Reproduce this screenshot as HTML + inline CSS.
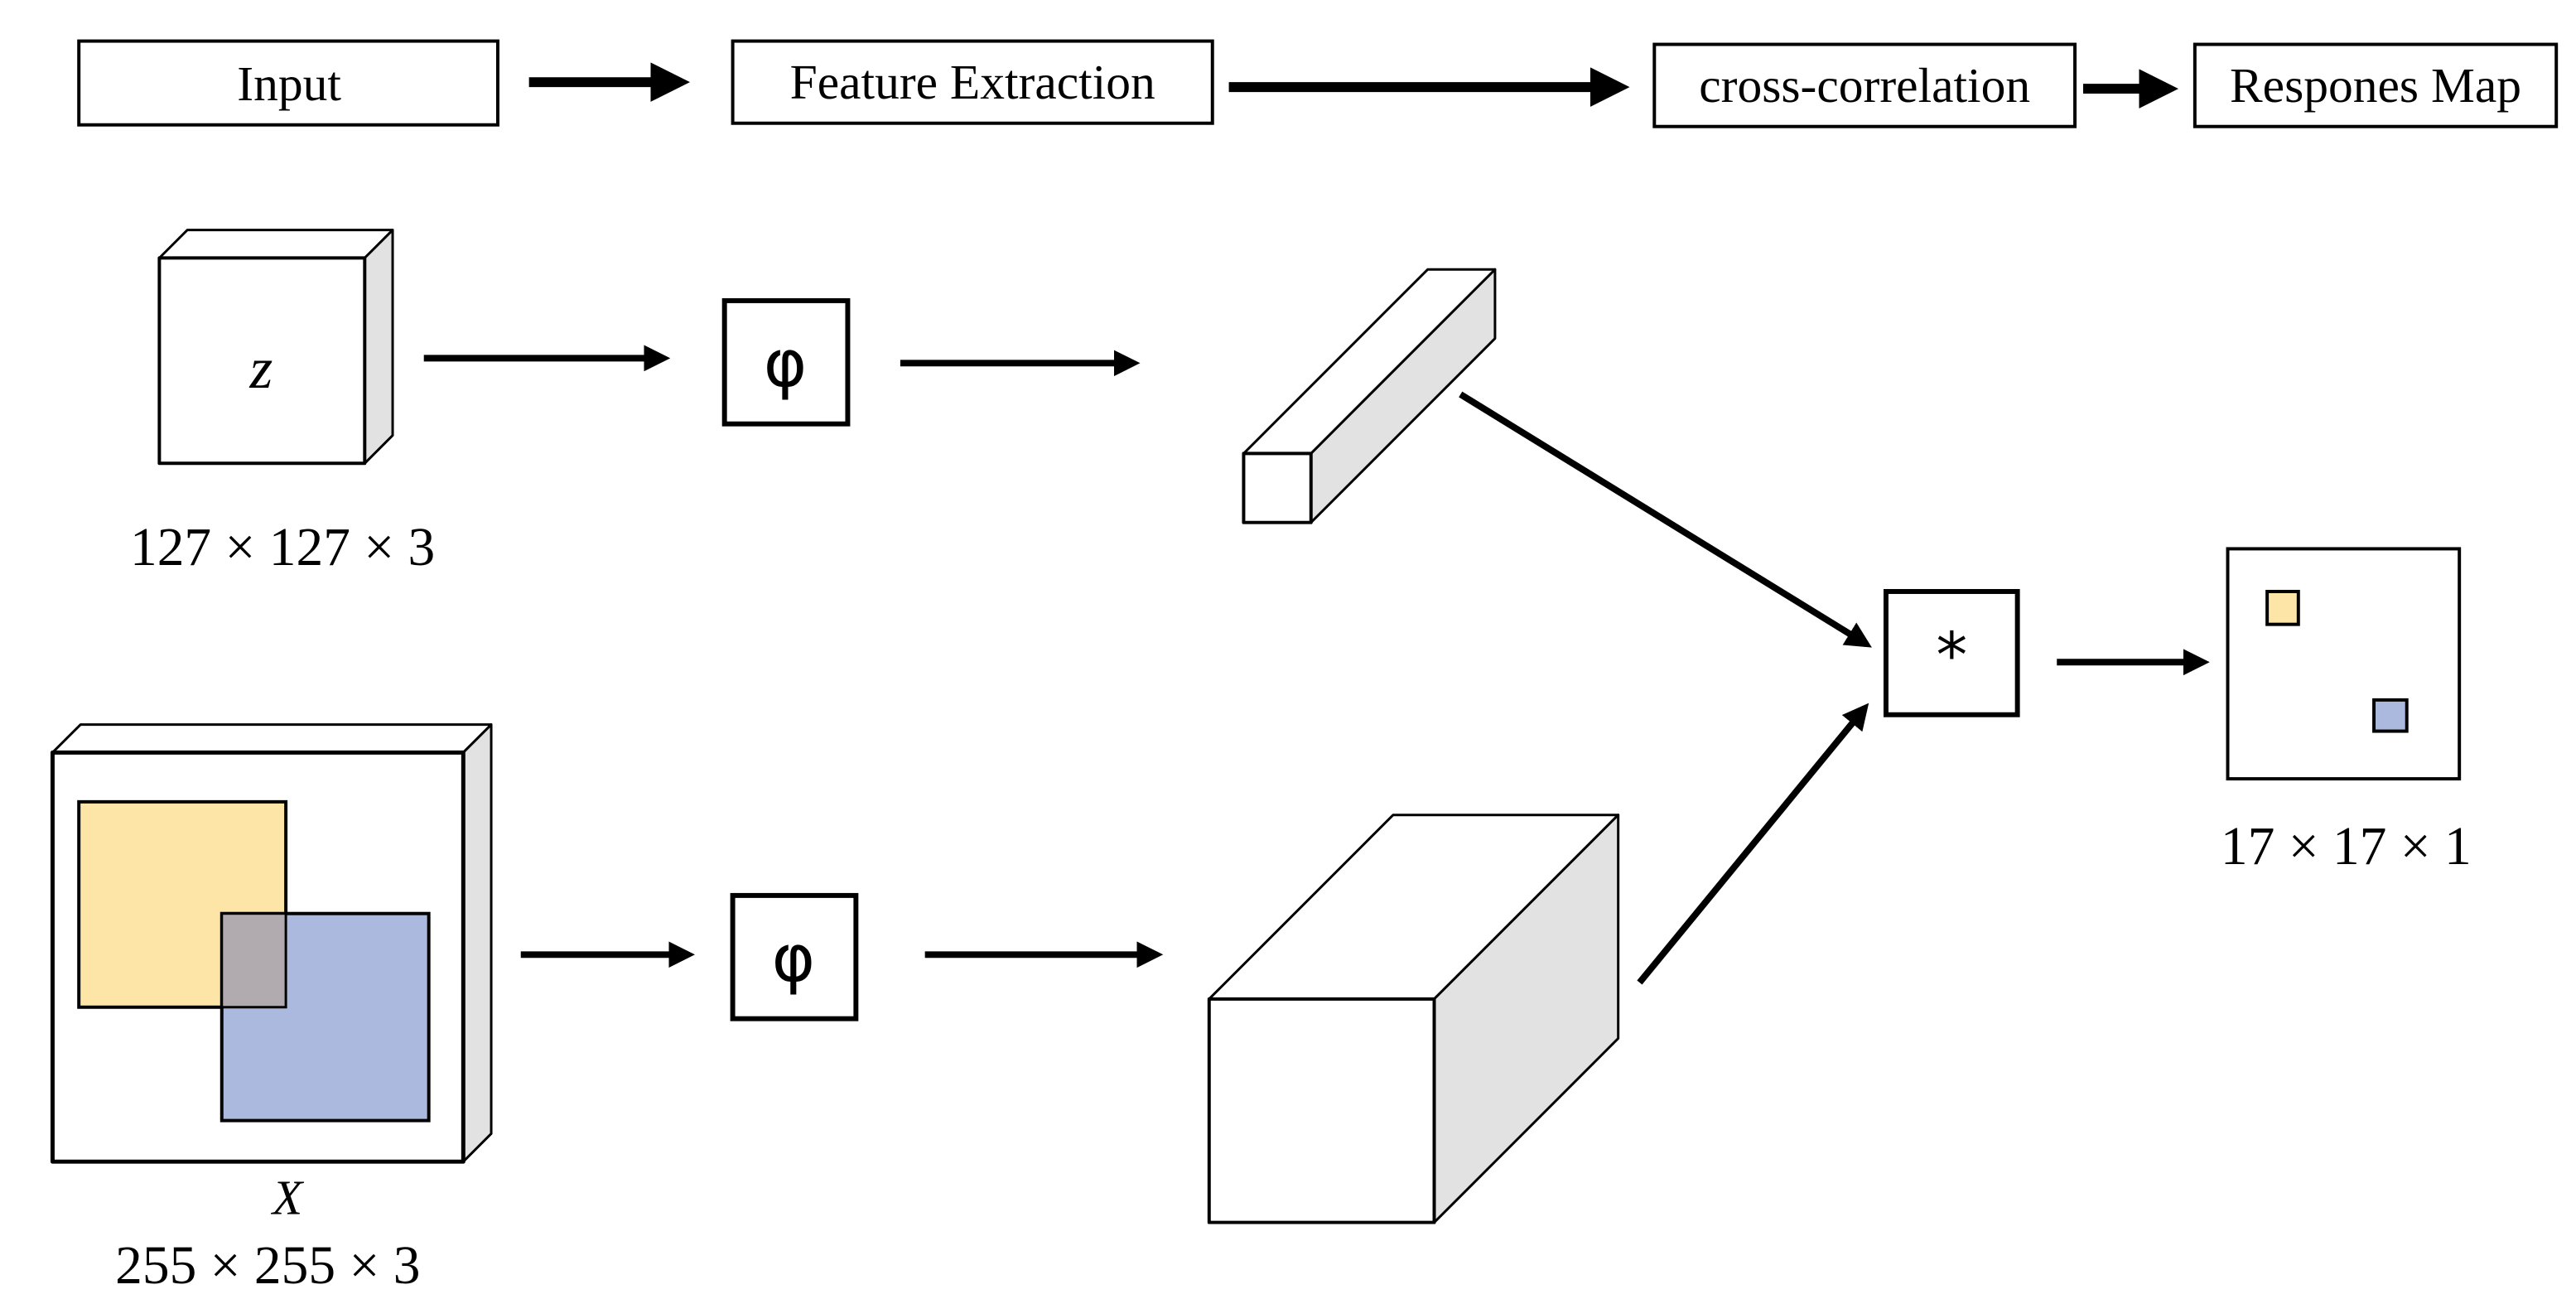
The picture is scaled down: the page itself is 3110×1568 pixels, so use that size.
<!DOCTYPE html>
<html><head><style>html,body{margin:0;padding:0;background:#fff}svg{display:block}</style></head><body>
<svg width="3110" height="1568" viewBox="0 0 1568 790.6" preserveAspectRatio="none" xmlns="http://www.w3.org/2000/svg" font-family="'Liberation Serif', serif">
<defs>
<marker id="ah" markerWidth="4" markerHeight="4" refX="3" refY="2" orient="auto" markerUnits="strokeWidth"><path d="M0,0 L4,2 L0,4 z" fill="#000"/></marker>
</defs>
<rect width="1568" height="791" fill="#fff"/>
<g fill="#fff" stroke="#000" stroke-width="2">
<rect x="48" y="25" width="255" height="51"/>
<rect x="446" y="25" width="292" height="50"/>
<rect x="1007" y="27" width="256" height="50"/>
<rect x="1336" y="27" width="220" height="50"/>
</g>
<g font-size="30" text-anchor="middle">
<text x="176" y="61">Input</text>
<text x="592" y="60">Feature Extraction</text>
<text x="1135" y="62">cross-correlation</text>
<text x="1446" y="62">Respones Map</text>
</g>
<g stroke="#000" fill="none">
<line x1="322" y1="50" x2="414" y2="50" stroke-width="6" marker-end="url(#ah)"/>
<line x1="748" y1="53" x2="986" y2="53" stroke-width="6" marker-end="url(#ah)"/>
<line x1="1268" y1="54" x2="1320" y2="54" stroke-width="6" marker-end="url(#ah)"/>
<line x1="258" y1="218" x2="404" y2="218" stroke-width="4" marker-end="url(#ah)"/>
<line x1="548" y1="221" x2="690" y2="221" stroke-width="4" marker-end="url(#ah)"/>
<line x1="317" y1="581" x2="419" y2="581" stroke-width="4" marker-end="url(#ah)"/>
<line x1="563" y1="581" x2="704" y2="581" stroke-width="4" marker-end="url(#ah)"/>
<line x1="889" y1="240" x2="1136" y2="392" stroke-width="4" marker-end="url(#ah)"/>
<line x1="998" y1="598" x2="1135" y2="431" stroke-width="4" marker-end="url(#ah)"/>
<line x1="1252" y1="403" x2="1341" y2="403" stroke-width="4" marker-end="url(#ah)"/>
</g>
<g stroke="#000" stroke-width="1.5" stroke-linejoin="round">
<polygon points="97,157 114,140 239,140 222,157" fill="#fff"/>
<polygon points="222,157 239,140 239,265 222,282" fill="#e1e2e1"/>
<rect x="97" y="157" width="125" height="125" fill="#fff" stroke-width="2"/>
</g>
<text x="159" y="236" font-size="36" font-style="italic" text-anchor="middle">z</text>
<text x="172" y="344" font-size="33" text-anchor="middle">127 × 127 × 3</text>
<rect x="441" y="183" width="75" height="75" fill="#fff" stroke="#000" stroke-width="3"/>
<text x="478" y="235" font-size="40" text-anchor="middle" font-family="'DejaVu Sans', sans-serif">φ</text>
<rect x="446" y="545" width="75" height="75" fill="#fff" stroke="#000" stroke-width="3"/>
<text x="483" y="597" font-size="40" text-anchor="middle" font-family="'DejaVu Sans', sans-serif">φ</text>
<g stroke="#000" stroke-width="1.5" stroke-linejoin="round">
<polygon points="757,276 869,164 910,164 798,276" fill="#fff"/>
<polygon points="798,276 910,164 910,206 798,318" fill="#e1e2e1"/>
<rect x="757" y="276" width="41" height="42" fill="#fff" stroke-width="2"/>
</g>
<g stroke="#000" stroke-width="1.5" stroke-linejoin="round">
<polygon points="736,608 848,496 985,496 873,608" fill="#fff"/>
<polygon points="873,608 985,496 985,632 873,744" fill="#e1e2e1"/>
<rect x="736" y="608" width="137" height="136" fill="#fff" stroke-width="2"/>
</g>
<g stroke="#000" stroke-width="1.5" stroke-linejoin="round">
<polygon points="32,458 49,441 299,441 282,458" fill="#fff"/>
<polygon points="282,458 299,441 299,690 282,707" fill="#e1e2e1"/>
<rect x="32" y="458" width="250" height="249" fill="#fff" stroke-width="2.5"/>
</g>
<rect x="48" y="488" width="126" height="125" fill="#fde5a8" stroke="#000" stroke-width="2"/>
<rect x="135" y="556" width="126" height="126" fill="#aab9dd" stroke="#000" stroke-width="2"/>
<rect x="135" y="556" width="39" height="57" fill="#b1abb0" stroke="#000" stroke-width="1.5"/>
<text x="175" y="739" font-size="30" font-style="italic" text-anchor="middle">X</text>
<text x="163" y="781" font-size="33" text-anchor="middle">255 × 255 × 3</text>
<rect x="1148" y="360" width="80" height="75" fill="#fff" stroke="#000" stroke-width="3"/>
<text x="1188" y="412" font-size="38" text-anchor="middle" font-family="'DejaVu Sans', sans-serif">*</text>
<rect x="1356" y="334" width="141" height="140" fill="#fff" stroke="#000" stroke-width="2"/>
<rect x="1380" y="360" width="19" height="20" fill="#fde5a8" stroke="#000" stroke-width="2"/>
<rect x="1445" y="426" width="20" height="19" fill="#aab9dd" stroke="#000" stroke-width="2"/>
<text x="1428" y="526" font-size="33" text-anchor="middle">17 × 17 × 1</text>
</svg>
</body></html>
